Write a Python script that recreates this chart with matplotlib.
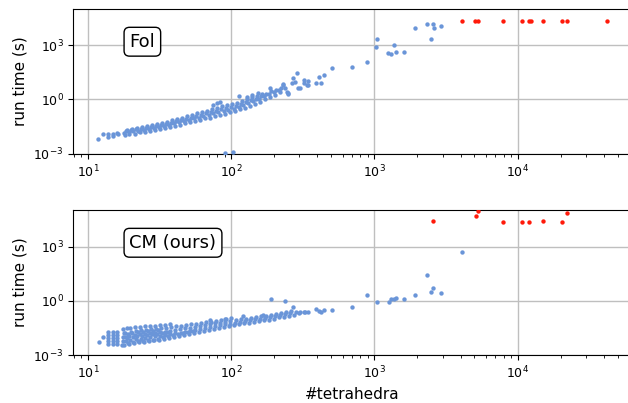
import matplotlib
matplotlib.use('Agg')
import matplotlib.pyplot as plt
from matplotlib.ticker import LogLocator, NullLocator, FixedLocator

# ---- Fol (top panel) ----
fol_x = [11.8, 12.8, 13.8, 13.9, 14.9, 15.0, 16.0, 16.2,
         17.8, 18.1, 18.4, 18.7, 19.2, 19.5, 19.9, 20.3, 20.8, 21.2, 21.6, 22.0,
         22.5, 23.0, 23.4, 23.9, 24.5, 24.9, 25.4, 25.8, 26.5, 27.0, 27.5, 28.0,
         28.8, 29.3, 29.8, 30.4, 31.2, 31.8, 32.4, 33.0, 33.8, 34.4, 35.1, 35.8,
         36.7, 37.3, 38.0, 38.8, 39.6, 40.3, 41.2, 42.0, 43.0, 43.8, 44.7, 45.6,
         46.6, 47.3, 48.3, 49.3, 50.4, 51.3, 52.4, 53.4, 54.6, 55.5, 56.7, 57.9,
         59.2, 60.2, 61.5, 62.7, 64.1, 65.2, 66.6, 68.0, 69.5, 70.7, 72.2, 73.6,
         75.3, 76.6, 78.2, 79.8, 81.6, 83.0, 84.8, 86.5, 88.5, 90.0, 91.9, 93.8,
         95.8, 97.5, 99.5, 101.5, 104, 106, 108, 110, 113, 115, 117, 120,
         122, 124, 127, 129, 132, 135, 138, 140, 143, 146, 149, 152,
         156, 158, 162, 165, 169, 172, 176, 183, 186, 190, 198, 201, 206,
         215, 218, 224,
         113, 155, 187, 231, 248, 79.6, 75, 84, 129, 140,
         232, 239, 245, 251, 265, 272, 279, 287, 294, 321, 339, 343,
         304, 325, 345, 393, 408, 424, 442, 505, 698, 888, 1030, 1042,
         1256, 1306, 1377, 1422, 1618, 1931, 2340, 2485, 2590, 2605, 2900,
         90.9, 103]
fol_y = [0.0064, 0.0117, 0.0117, 0.0083, 0.0117, 0.0095, 0.0143, 0.0117,
         0.014, 0.011, 0.017, 0.021, 0.016, 0.012, 0.020, 0.024, 0.017, 0.013, 0.022, 0.027,
         0.019, 0.015, 0.024, 0.030, 0.021, 0.016, 0.027, 0.034, 0.024, 0.018, 0.030, 0.040,
         0.026, 0.020, 0.034, 0.045, 0.030, 0.022, 0.040, 0.050, 0.035, 0.026, 0.045, 0.060,
         0.040, 0.030, 0.052, 0.070, 0.048, 0.035, 0.062, 0.085, 0.055, 0.040, 0.072, 0.10,
         0.065, 0.048, 0.085, 0.12, 0.075, 0.055, 0.10, 0.14, 0.09, 0.065, 0.12, 0.17,
         0.10, 0.075, 0.14, 0.20, 0.12, 0.09, 0.17, 0.24, 0.14, 0.10, 0.20, 0.30,
         0.17, 0.12, 0.24, 0.35, 0.20, 0.14, 0.28, 0.42, 0.23, 0.16, 0.32, 0.50,
         0.27, 0.19, 0.38, 0.55, 0.30, 0.22, 0.45, 0.65, 0.38, 0.28, 0.55, 0.80,
         0.50, 0.35, 0.70, 1.0, 0.65, 0.45, 0.90, 1.3, 0.80, 0.55, 1.1, 1.6,
         1.1, 0.75, 1.5, 2.1, 1.5, 1.0, 2.0, 2.0, 1.4, 2.8, 2.6, 1.8, 3.3,
         3.5, 2.5, 4.5,
         1.5, 2.3, 4.2, 6.2, 2.2, 0.60, 0.48, 0.74, 1.39, 1.73,
         7.0, 4.05, 2.6, 2.1, 7.7, 14.5, 9.4, 29.5, 4.05, 11.6, 6.2, 10.6,
         4.05, 8.3, 6.2, 7.7, 17.7, 8.3, 22, 52, 63, 120, 805, 2070,
         348, 306, 1000, 395, 427, 9040, 15800, 2345, 15800, 9500, 11200,
         0.0011, 0.0012]
fol_timeout_x = [4090, 5070, 5260, 7860, 10700, 12100, 12500, 15100, 20300, 22300, 42100]
fol_timeout_y = [21600, 21600, 21600, 21600, 21600, 21600, 21600, 21600, 21600, 21600, 21600]

# ---- CM (bottom panel) ----
cm_x = [11.9, 12.8, 13.9, 13.9, 13.9, 13.9, 13.9, 14.9, 14.9, 14.9, 14.9, 14.9,
        16.0, 16.0, 16.0, 16.0, 16.0,
        17.4, 17.7, 17.5, 17.9, 17.6, 18.0, 18.3, 18.5, 18.2, 18.6,
        19.3, 19.8, 19.5, 20.0, 19.7, 21.0, 21.5, 21.2, 21.8, 21.4,
        22.8, 23.3, 23.0, 23.6, 23.2, 24.7, 25.2, 24.9, 25.5, 25.1,
        26.7, 27.3, 27.0, 27.6, 27.2, 29.0, 29.6, 29.2, 29.9, 29.5,
        31.4, 32.1, 31.7, 32.5, 32.0, 34.1, 34.8, 34.4, 35.2, 34.7,
        36.9, 37.7, 37.3, 38.1, 37.6, 40.0, 40.8, 40.4, 41.3,
        43.4, 44.3, 43.9, 44.8, 47.0, 47.9, 47.4, 48.5,
        50.9, 51.9, 51.4, 52.5, 55.1, 56.2, 55.6, 56.9,
        59.7, 60.9, 60.3, 61.6, 64.7, 66.0, 65.3, 66.8,
        70.1, 71.5, 70.8, 72.4, 76.0, 77.5, 76.7, 78.5,
        82.4, 84.0, 83.2, 85.1, 89.3, 91.0, 90.1, 92.2,
        96.7, 98.6, 97.6, 99.9, 105, 107, 109, 114, 116, 118,
        123, 125, 127, 134, 136, 138, 145, 147, 149, 157, 160, 162,
        170, 173, 176, 184, 187, 190, 200, 203, 206, 216, 220, 223,
        235, 239, 243, 255, 259, 263, 277, 282, 300,
        18.9, 18.8, 19.0, 20.5, 20.6, 20.4, 22.3, 22.1, 22.4, 24.1, 24.0, 24.3,
        26.1, 26.0, 26.3, 28.3, 28.1, 28.4, 30.7, 30.5, 30.8, 33.3, 33.1, 36.1, 35.9,
        39.0, 42.5, 46.0, 49.8, 54.0,
        71.4, 90.9, 122, 167, 270, 190, 236,
        304, 321, 329, 342, 393, 408, 424, 442, 505, 698, 888, 1042,
        1264, 1306, 1377, 1422, 1618, 1931, 2340, 2470, 2590, 2900, 4090]
cm_y = [0.0054, 0.0094, 0.0042, 0.006, 0.009, 0.013, 0.019, 0.0042, 0.006, 0.009, 0.013, 0.019,
        0.0042, 0.006, 0.009, 0.013, 0.018,
        0.0035, 0.006, 0.010, 0.017, 0.028, 0.0036, 0.006, 0.010, 0.017, 0.030,
        0.004, 0.007, 0.012, 0.020, 0.033, 0.0045, 0.008, 0.013, 0.022, 0.035,
        0.005, 0.008, 0.014, 0.023, 0.037, 0.0055, 0.009, 0.015, 0.025, 0.038,
        0.006, 0.010, 0.016, 0.026, 0.040, 0.0065, 0.011, 0.017, 0.028, 0.042,
        0.007, 0.012, 0.019, 0.030, 0.045, 0.008, 0.013, 0.020, 0.032, 0.048,
        0.009, 0.014, 0.022, 0.034, 0.050, 0.010, 0.016, 0.025, 0.038,
        0.011, 0.017, 0.027, 0.040, 0.013, 0.020, 0.030, 0.045,
        0.015, 0.022, 0.033, 0.050, 0.017, 0.025, 0.036, 0.055,
        0.020, 0.028, 0.040, 0.060, 0.022, 0.032, 0.045, 0.065,
        0.025, 0.036, 0.050, 0.070, 0.028, 0.040, 0.056, 0.080,
        0.032, 0.045, 0.062, 0.090, 0.036, 0.050, 0.070, 0.10,
        0.040, 0.055, 0.075, 0.11, 0.045, 0.060, 0.085, 0.050, 0.068, 0.095,
        0.056, 0.075, 0.10, 0.062, 0.085, 0.11, 0.070, 0.095, 0.13, 0.080, 0.10, 0.14,
        0.085, 0.11, 0.15, 0.090, 0.12, 0.17, 0.10, 0.14, 0.19, 0.12, 0.16, 0.22,
        0.13, 0.18, 0.25, 0.15, 0.20, 0.27, 0.17, 0.23, 0.20,
        0.0048, 0.0085, 0.014, 0.0052, 0.0095, 0.016, 0.0058, 0.011, 0.018, 0.0062, 0.012, 0.019,
        0.0068, 0.013, 0.021, 0.0072, 0.014, 0.022, 0.0078, 0.015, 0.024, 0.0095, 0.017, 0.011, 0.018,
        0.013, 0.014, 0.016, 0.018, 0.021,
        0.089, 0.097, 0.136, 0.17, 0.43, 1.24, 1.04,
        0.24, 0.226, 0.256, 0.24, 0.35, 0.28, 0.256, 0.33, 0.33, 0.47, 2.15, 0.85,
        0.91, 1.29, 1.29, 1.52, 1.34, 2.15, 26, 3.0, 5.2, 2.8, 530]
cm_timeout_x = [2590, 5150, 5260, 7860, 10700, 12100, 15100, 20300, 22300]
cm_timeout_y = [26300, 50000, 93000, 24000, 22300, 23000, 26300, 23000, 76000]

panel_labels = ['Fol', 'CM (ours)']

BLUE = '#6a95d8'
RED = '#ff1a0a'

fig = plt.figure(figsize=(6.28, 4.03), dpi=100)
ax_top = fig.add_axes([0.1167, 0.6186, 0.8896, 0.359])
ax_bot = fig.add_axes([0.1167, 0.1191, 0.8896, 0.3598])

panels = [(ax_top, fol_x, fol_y, fol_timeout_x, fol_timeout_y, 1.0e5),
          (ax_bot, cm_x, cm_y, cm_timeout_x, cm_timeout_y, 1.07e5)]

for (ax, xs, ys, tx, ty, ytop), label in zip(panels, panel_labels):
    ax.scatter(xs, ys, s=10, color=BLUE, linewidths=0, zorder=3)
    ax.scatter(tx, ty, s=10, color=RED, linewidths=0, zorder=3)
    ax.set_xscale('log')
    ax.set_yscale('log')
    ax.set_xlim(7.9, 63000)
    ax.set_ylim(1e-3, ytop)
    ax.yaxis.set_major_locator(FixedLocator([1e-3, 1e0, 1e3]))
    ax.yaxis.set_minor_locator(NullLocator())
    ax.xaxis.set_major_locator(LogLocator(base=10))
    ax.grid(True, which='major', color='0.75', linewidth=1.0, zorder=0)
    ax.set_axisbelow(True)
    ax.tick_params(labelsize=9)
    ax.set_ylabel('run time (s)', fontsize=11)
    ax.text(0.1006, 0.774, label, transform=ax.transAxes, fontsize=13,
            ha='left', va='center',
            bbox=dict(boxstyle='round,pad=0.3', fc='white', ec='black', lw=1.0))

ax_bot.set_xlabel('#tetrahedra', fontsize=11)

plt.savefig('out.png', dpi=100)
